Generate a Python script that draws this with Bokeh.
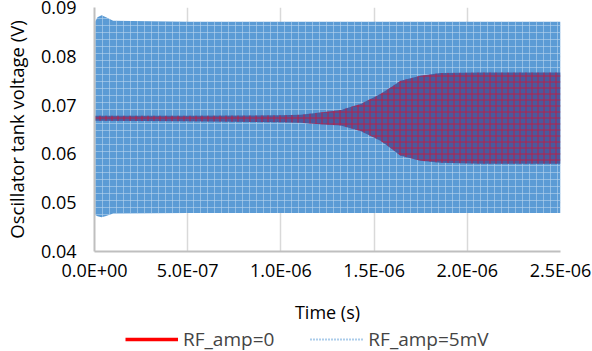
from bokeh.plotting import figure
from bokeh.layouts import column
from bokeh.models import Range1d, FixedTicker, Legend, LegendItem, ColumnDataSource
from bokeh.embed import file_html
from bokeh.resources import INLINE

# ---- data (envelopes) ----
t_blue = [0.0, 0.016e-6, 0.038e-6, 0.062e-6, 0.10e-6, 0.5e-6, 1.0e-6, 1.5e-6, 2.0e-6, 2.5e-6]
blue_top = [0.0868, 0.0880, 0.0884, 0.0880, 0.0873, 0.0871, 0.0871, 0.0871, 0.0871, 0.0871]
blue_bottom = [0.0476, 0.0472, 0.0470, 0.0473, 0.0478, 0.0479, 0.0479, 0.0479, 0.0479, 0.0479]

t_red = [0.0, 0.5e-6, 1.0e-6, 1.105e-6, 1.212e-6, 1.320e-6, 1.427e-6, 1.534e-6,
         1.588e-6, 1.642e-6, 1.749e-6, 1.856e-6, 2.071e-6, 2.5e-6]
red_top = [0.0678, 0.0678, 0.0679, 0.0680, 0.0685, 0.0690, 0.0702, 0.0723,
           0.0736, 0.0750, 0.0760, 0.0766, 0.0767, 0.0767]
red_bottom = [0.0668, 0.0667, 0.0665, 0.0664, 0.0661, 0.0658, 0.0647, 0.0627,
              0.0612, 0.0596, 0.0586, 0.0582, 0.0580, 0.0580]

x_ticks = [0.0, 0.5e-6, 1.0e-6, 1.5e-6, 2.0e-6, 2.5e-6]
x_tick_labels = ["0.0E+00", "5.0E-07", "1.0E-06", "1.5E-06", "2.0E-06", "2.5E-06"]
y_ticks = [0.04, 0.05, 0.06, 0.07, 0.08, 0.09]
y_tick_labels = ["0.04", "0.05", "0.06", "0.07", "0.08", "0.09"]

series_names = ["RF_amp=0", "RF_amp=5mV"]

FONT = "Open Sans"

p = figure(frame_width=466, frame_height=244,
           x_range=Range1d(0, 2.5e-6), y_range=Range1d(0.04, 0.09),
           output_backend="svg", toolbar_location=None,
           min_border_left=94, min_border_right=32, min_border_top=7, min_border_bottom=0)
p.outline_line_color = None
p.background_fill_color = "white"

# grid
p.xgrid.ticker = FixedTicker(ticks=x_ticks)
p.ygrid.ticker = FixedTicker(ticks=y_ticks)
for g in (p.xgrid, p.ygrid):
    g.grid_line_color = "#d9d9d9"
    g.grid_line_width = 1.5

# axes
p.xaxis.ticker = FixedTicker(ticks=x_ticks)
p.yaxis.ticker = FixedTicker(ticks=y_ticks)
p.xaxis.major_label_overrides = dict(zip(x_ticks, x_tick_labels))
p.yaxis.major_label_overrides = dict(zip(y_ticks, y_tick_labels))
for ax in (p.xaxis[0], p.yaxis[0]):
    ax.major_tick_line_color = None
    ax.minor_tick_line_color = None
    ax.major_tick_out = 0
    ax.major_tick_in = 0
    ax.minor_tick_out = 0
    ax.minor_tick_in = 0
    ax.axis_line_color = "#bfbfbf"
    ax.axis_line_width = 2
    ax.major_label_text_font = FONT
    ax.major_label_text_font_size = "18px"
    ax.major_label_text_color = "#000000"
    ax.axis_label_text_font = FONT
    ax.axis_label_text_font_size = "18px"
    ax.axis_label_text_font_style = "normal"
    ax.axis_label_text_color = "#000000"
p.xaxis.axis_label = "Time (s)"
p.yaxis.axis_label = "Oscillator tank voltage (V)"
p.yaxis.axis_label_text_font_size = "18.5px"
p.xaxis.major_label_standoff = 6
p.xaxis.axis_label_standoff = 15
p.yaxis.major_label_standoff = 18
p.yaxis.axis_label_standoff = 9

# bands
src_b = ColumnDataSource(dict(t=t_blue, top=blue_top, bot=blue_bottom))
src_r = ColumnDataSource(dict(t=t_red, top=red_top, bot=red_bottom))
p.varea(x="t", y1="bot", y2="top", source=src_b, fill_color="#5b9bd5",
        hatch_pattern="cross", hatch_color="#b8d4ef", hatch_alpha=0.6,
        hatch_scale=7, hatch_weight=1)
p.varea(x="t", y1="bot", y2="top", source=src_r, fill_color="#4a5a9e",
        hatch_pattern="cross", hatch_color="#c8183c", hatch_alpha=0.85,
        hatch_scale=6, hatch_weight=1)

# ---- legend strip below the chart ----
p2 = figure(width=592, height=26, x_range=Range1d(0, 1), y_range=Range1d(0, 1),
            output_backend="svg", toolbar_location=None,
            min_border_left=0, min_border_right=0, min_border_top=0, min_border_bottom=0)
p2.axis.visible = False
p2.grid.visible = False
p2.outline_line_color = None

nan = float("nan")
lr = p2.line([nan], [nan], line_color="#ff0000", line_width=3.5)
lb = p2.line([nan], [nan], line_color="#5b9bd5", line_width=2, line_dash="1 2")

legend = Legend(items=[LegendItem(label=series_names[0], renderers=[lr]),
                       LegendItem(label=series_names[1], renderers=[lb])],
                orientation="horizontal", location=(31, 0),
                border_line_color=None, background_fill_alpha=0,
                label_text_font=FONT, label_text_font_size="19px",
                glyph_width=53, glyph_height=14, label_standoff=5, spacing=36,
                padding=0, margin=0)
p2.add_layout(legend)

layout = column(p, p2, spacing=0)
open("out.html", "w").write(file_html(layout, INLINE))
